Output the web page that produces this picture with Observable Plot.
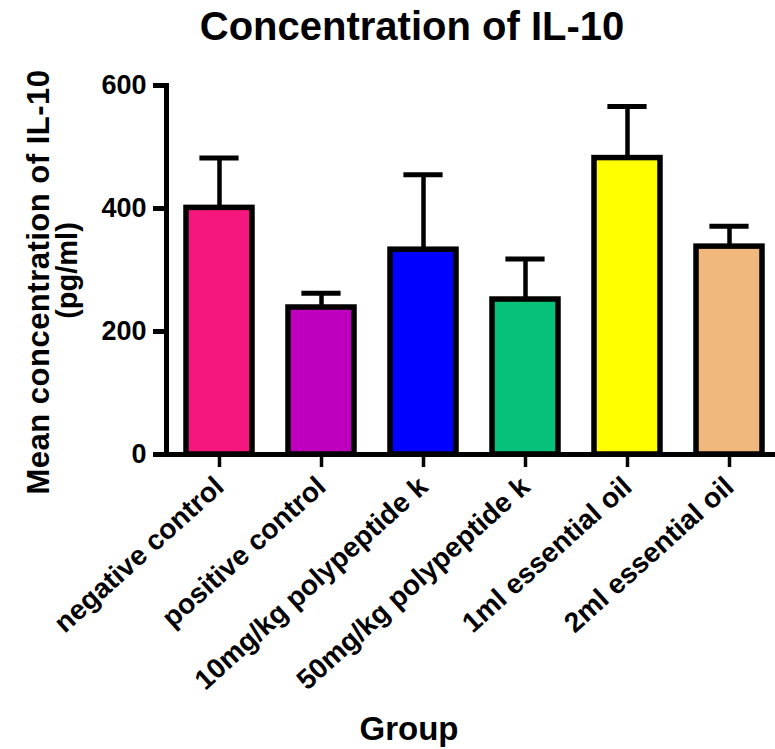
<!DOCTYPE html>
<html>
<head>
<meta charset="utf-8">
<script src="https://cdn.jsdelivr.net/npm/d3@7"></script>
<script src="https://cdn.jsdelivr.net/npm/@observablehq/plot@0.6"></script>
<style>
  html, body { margin: 0; padding: 0; background: white; }
  #chart svg { display: block; }
  .ylab1 text { letter-spacing: 0.5px; }
</style>
</head>
<body>
<div id="chart"></div>
<script>
const groups = ["negative control", "positive control", "10mg/kg polypeptide k", "50mg/kg polypeptide k", "1ml essential oil", "2ml essential oil"];
const means = [401, 239, 333, 252, 482, 338];
const errors = [81, 23, 122, 66, 84, 33];
const colors = ["#F6177E", "#BE00BE", "#0000FF", "#06C17A", "#FFFF00", "#F1B87E"];
const yTicks = [0, 200, 400, 600];
const titleText = "Concentration of IL-10";
const yLabelLine1 = "Mean concentration of IL-10";
const yLabelLine2 = "(pg/ml)";
const xLabel = "Group";

const data = groups.map((g, i) => ({group: g, mean: means[i], upper: means[i] + errors[i]}));

const chart = Plot.plot({
  width: 775,
  height: 749,
  marginTop: 85,
  marginBottom: 295,
  marginLeft: 166,
  marginRight: 0,
  style: {fontFamily: "'Liberation Sans', Arial, sans-serif", fontWeight: "bold", background: "white", color: "black", overflow: "hidden"},
  x: {domain: groups, range: [166, 781.6], paddingInner: 0.35, paddingOuter: 0.172, align: 0.5, label: null},
  y: {domain: [0, 600], label: null},
  color: {domain: groups, range: colors},
  marks: [
    Plot.ruleX(data, {x: "group", y1: "mean", y2: "upper", stroke: "black", strokeWidth: 4.5}),
    Plot.barY(data, {x: "group", y: "mean", fill: "group", stroke: "black", strokeWidth: 5.5}),
    Plot.tickY(data, {x: "group", y: "upper", stroke: "black", strokeWidth: 5, insetLeft: 13.4, insetRight: 13.4}),
    Plot.frame({anchor: "left", stroke: "black", strokeWidth: 5}),
    Plot.frame({anchor: "bottom", stroke: "black", strokeWidth: 5}),
    Plot.axisY({ticks: yTicks, tickSize: 13, tickPadding: 7, fontSize: 27, strokeWidth: 5, label: null}),
    Plot.axisX({tickSize: 13, tickPadding: 15, tickRotate: -42, fontSize: 28, strokeWidth: 3.5, label: null}),
    Plot.text([titleText], {frameAnchor: "top", dx: -59, dy: -46, lineAnchor: "bottom", fontSize: 40, fontWeight: "bold"}),
    Plot.text([yLabelLine1], {frameAnchor: "left", rotate: -90, dx: -118, dy: 12, lineAnchor: "bottom", textAnchor: "middle", fontSize: 31, fontWeight: "bold", className: "ylab1"}),
    Plot.text([yLabelLine2], {frameAnchor: "left", rotate: -90, dx: -90, dy: 0.5, lineAnchor: "bottom", textAnchor: "middle", fontSize: 29, fontWeight: "bold"}),
    Plot.text([xLabel], {frameAnchor: "bottom", dx: -62, dy: 285, lineAnchor: "bottom", fontSize: 33, fontWeight: "bold"})
  ]
});
document.getElementById("chart").appendChild(chart);
</script>
</body>
</html>
